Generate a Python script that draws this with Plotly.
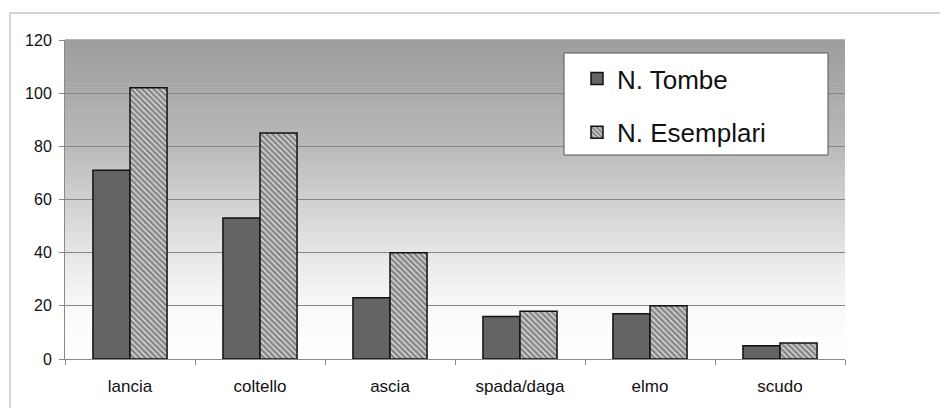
import plotly.graph_objects as go
import numpy as np

categories = ["lancia", "coltello", "ascia", "spada/daga", "elmo", "scudo"]
n_tombe = [71, 53, 23, 16, 17, 5]
n_esemplari = [102, 85, 40, 18, 20, 6]
y_ticks = [0, 20, 40, 60, 80, 100, 120]

OFF = 8  # page body offset
W, H = 940, 400
ML, MT = 65 - OFF, 40 - OFF
MR = W - (845 - OFF)
MB = H - (359 - OFF)
PW, PH = W - ML - MR, H - MT - MB


def px_x(x):
    return (x - OFF - ML) / PW


def px_y(y):
    return (H - MB - (y - OFF)) / PH


fig = go.Figure()
fig.add_trace(go.Bar(
    x=categories, y=n_tombe, name="N. Tombe",
    marker=dict(color="#646464", line=dict(color="#111111", width=1.5)),
    legendgroup="a",
))
fig.add_trace(go.Bar(
    x=categories, y=n_esemplari, name="N. Esemplari",
    marker=dict(color="#e8e8e8", line=dict(color="#111111", width=1.5),
                pattern=dict(shape="\\", fgcolor="#262626", bgcolor="#e8e8e8",
                             size=4, solidity=0.7)),
    legendgroup="b",
))

# gradient plot background (stripes)
anchors_t = [0.0, 1/6, 2/6, 0.5, 4/6, 5/6, 1.0]
anchors_g = [255, 249, 230, 208, 186, 170, 158]
N = 80
shapes = []
for i in range(N):
    t0, t1 = i / N, (i + 1) / N
    g = int(round(np.interp((t0 + t1) / 2, anchors_t, anchors_g)))
    shapes.append(dict(type="rect", xref="paper", yref="paper", x0=0, x1=1,
                       y0=t0, y1=t1 + 0.002, fillcolor=f"rgb({g},{g},{g})",
                       line=dict(width=0), layer="below"))
# outer chart border
shapes.append(dict(type="rect", xref="paper", yref="paper",
                   x0=px_x(10), x1=px_x(W + 40), y0=px_y(H + 40), y1=px_y(13),
                   line=dict(color="#d4d4d4", width=2), fillcolor="rgba(0,0,0,0)",
                   layer="below"))
# legend box
shapes.append(dict(type="rect", xref="paper", yref="paper",
                   x0=px_x(564), x1=px_x(828), y0=px_y(155), y1=px_y(53),
                   line=dict(color="#555555", width=1), fillcolor="white",
                   layer="above"))

fig.update_layout(
    width=W, height=H,
    margin=dict(l=ML, r=MR, t=MT, b=MB, autoexpand=False),
    paper_bgcolor="white", plot_bgcolor="white",
    barmode="group", bargap=0.43, bargroupgap=0,
    font=dict(family="Liberation Sans, Arial, sans-serif", color="#111111"),
    shapes=shapes,
    showlegend=True,
    legend=dict(x=px_x(577), y=px_y(55), xanchor="left", yanchor="top",
                bgcolor="rgba(0,0,0,0)", borderwidth=0,
                font=dict(size=26, color="#111111"),
                traceorder="grouped", tracegroupgap=17),
    xaxis=dict(showline=True, linecolor="#8a8a8a", linewidth=1,
               ticks="outside", tickson="boundaries", ticklen=5, tickcolor="#8a8a8a",
               tickfont=dict(size=17), showgrid=False, ticklabelstandoff=12,
               automargin=False),
    yaxis=dict(range=[0, 120], tickvals=y_ticks, showline=True, linecolor="#8a8a8a",
               linewidth=1, ticks="outside", ticklen=5, tickcolor="#8a8a8a",
               tickfont=dict(size=16), showgrid=True, gridcolor="#858585",
               gridwidth=1, zeroline=False, ticklabelstandoff=4, automargin=False),
)

fig.write_html("out.html")
